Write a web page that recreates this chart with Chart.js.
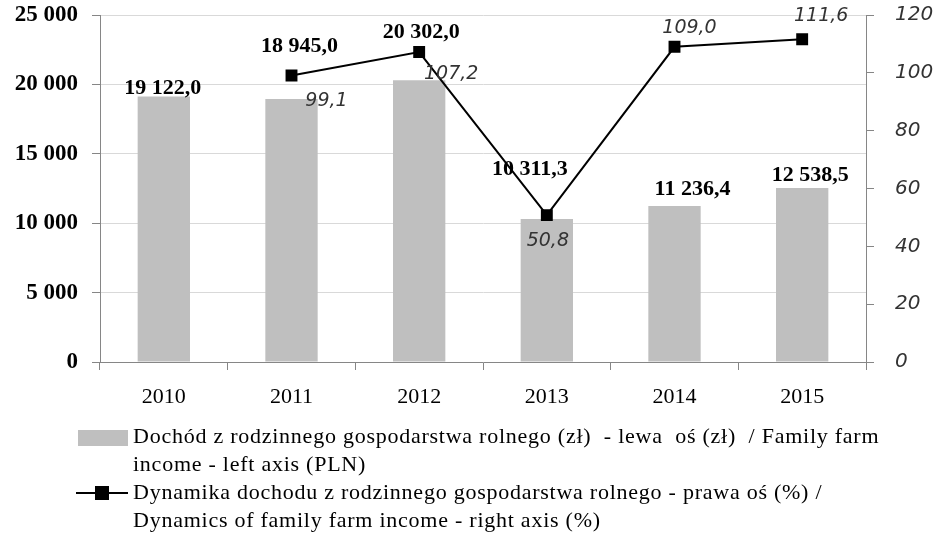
<!DOCTYPE html>
<html>
<head>
<meta charset="utf-8">
<script src="https://cdn.jsdelivr.net/npm/chart.js@4"></script>
<style>
  body { margin: 0; background: #fff; }
  #wrap { position: relative; width: 951px; height: 538px; overflow: hidden; }
  #chartBox { position: absolute; left: 0; top: -18px; width: 951px; height: 556px; }
</style>
</head>
<body>
<div id="wrap">
  <div id="chartBox"><canvas id="farmChart"></canvas></div>
</div>
<script>
// data
const years = ["2010", "2011", "2012", "2013", "2014", "2015"];
const incomePLN = [19122.0, 18945.0, 20302.0, 10311.3, 11236.4, 12538.5];
const dynamicsPct = [null, 99.1, 107.2, 50.8, 109.0, 111.6];
const legendLines = [
  ["Dochód z rodzinnego gospodarstwa rolnego (zł)  - lewa  oś (zł)  / Family farm", "income - left axis (PLN)"],
  ["Dynamika dochodu z rodzinnego gospodarstwa rolnego - prawa oś (%) /", "Dynamics of family farm income - right axis (%)"]
];

const fmtPL = (v, dec) => {
  const s = v.toFixed(dec).split(".");
  const int = s[0].replace(/\B(?=(\d{3})+(?!\d))/g, " ");
  return dec ? int + "," + s[1] : int;
};

// value labels next to bars and markers (label nudges live in options, not in data)
const valueLabels = {
  id: "valueLabels",
  afterDatasetsDraw(chart, args, opts) {
    const ctx = chart.ctx;
    ctx.save();
    ctx.textAlign = "center";
    ctx.textBaseline = "middle";

    const bars = chart.getDatasetMeta(0).data;
    ctx.font = "bold 22px 'Liberation Serif'";
    ctx.fillStyle = "#000";
    bars.forEach((el, i) => {
      const d = opts.barShift[i];
      ctx.fillText(fmtPL(incomePLN[i], 1), el.x + d[0], el.y + d[1]);
    });

    const pts = chart.getDatasetMeta(1).data;
    ctx.font = "italic 19px 'DejaVu Sans'";
    ctx.fillStyle = "#333";
    pts.forEach((el, i) => {
      if (dynamicsPct[i] == null) return;
      const d = opts.lineShift[i];
      ctx.fillText(fmtPL(dynamicsPct[i], 1), el.x + d[0], el.y + d[1]);
    });
    ctx.restore();
  }
};

// legend drawn under the plot (canvas sits 18px above the page top)
const bottomLegend = {
  id: "bottomLegend",
  afterDraw(chart, args, opts) {
    const ctx = chart.ctx;
    const y0 = opts.top;
    ctx.save();
    ctx.fillStyle = "#bfbfbf";
    ctx.fillRect(78, y0 + 7, 50, 16);
    ctx.strokeStyle = "#000";
    ctx.lineWidth = 2;
    ctx.beginPath();
    ctx.moveTo(76, y0 + 70);
    ctx.lineTo(128, y0 + 70);
    ctx.stroke();
    ctx.fillStyle = "#000";
    ctx.fillRect(95, y0 + 63, 14, 14);

    ctx.font = "22px 'Liberation Serif'";
    ctx.letterSpacing = "0.75px";
    ctx.textBaseline = "middle";
    ctx.textAlign = "left";
    let y = y0 + 14;
    legendLines.forEach(item => {
      item.forEach(line => {
        ctx.fillText(line, 133, y);
        y += 28;
      });
    });
    ctx.restore();
  }
};

const ctx = document.getElementById("farmChart").getContext("2d");
new Chart(ctx, {
  type: "bar",
  data: {
    labels: years,
    datasets: [
      {
        type: "bar",
        label: "Dochód",
        data: incomePLN,
        backgroundColor: "#bfbfbf",
        yAxisID: "y",
        barPercentage: 0.41,
        categoryPercentage: 1,
        order: 2
      },
      {
        type: "line",
        label: "Dynamika",
        data: dynamicsPct,
        borderColor: "#000",
        backgroundColor: "#000",
        borderWidth: 2,
        pointStyle: "rect",
        pointRadius: 7,
        pointHoverRadius: 7,
        yAxisID: "y1",
        spanGaps: false,
        order: 1
      }
    ]
  },
  options: {
    responsive: true,
    maintainAspectRatio: false,
    animation: false,
    layout: { padding: { top: 2, right: 0, left: 0, bottom: 118 } },
    plugins: {
      legend: { display: false },
      tooltip: { enabled: false },
      valueLabels: {
        barShift: [[-1, -8], [8, -53], [2, -48], [-17, -50], [18, -17], [8, -13]],
        lineShift: [[0, 0], [35, 26], [32, 22], [1, 26], [15, -19], [19, -23]]
      },
      bottomLegend: { top: 441 }
    },
    scales: {
      x: {
        offset: true,
        grid: { offset: true, drawOnChartArea: false, color: "#868686", tickLength: 8 },
        border: { color: "#868686" },
        ticks: { color: "#000", font: { family: "Liberation Serif", size: 22 }, padding: 14 },
        afterFit(scale) { scale.height = 58; }
      },
      y: {
        position: "left",
        min: 0, max: 25000,
        ticks: {
          stepSize: 5000,
          color: "#000",
          font: { family: "Liberation Serif", size: 23, weight: "bold" },
          padding: 14,
          callback: v => fmtPL(v, 0)
        },
        grid: { color: "#d9d9d9", tickColor: "#868686", tickLength: 8 },
        border: { color: "#868686" },
        afterFit(scale) { scale.width = 100; }
      },
      y1: {
        position: "right",
        min: 0, max: 120,
        ticks: {
          stepSize: 20,
          color: "#333",
          font: { family: "DejaVu Sans", size: 20, style: "italic" },
          padding: 21
        },
        grid: { drawOnChartArea: false, color: "#868686", tickLength: 8 },
        border: { color: "#868686" },
        afterFit(scale) { scale.width = 85; }
      }
    }
  },
  plugins: [valueLabels, bottomLegend]
});
</script>
</body>
</html>
